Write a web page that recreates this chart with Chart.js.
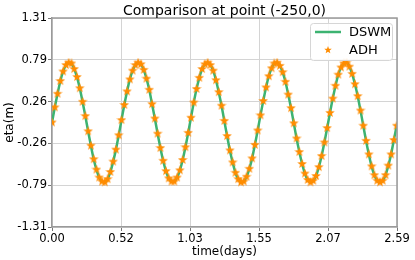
<!DOCTYPE html>
<html>
<head>
<meta charset="utf-8">
<script src="https://cdn.jsdelivr.net/npm/chart.js@4"></script>
<style>
  html, body { margin: 0; padding: 0; background: #fff; }
  canvas { display: block; }
</style>
</head>
<body>
<canvas id="chart" width="415" height="260"></canvas>
<script>
// sample times (hours), DSWM water level and ADH water level (m)
const hours = [
  0, 0.5, 1, 1.5, 2, 2.5, 3, 3.5, 4, 4.5, 5, 5.5, 6, 6.5, 7, 7.5, 8, 8.5, 9, 9.5,
  10, 10.5, 11, 11.5, 12, 12.5, 13, 13.5, 14, 14.5, 15, 15.5, 16, 16.5, 17, 17.5, 18, 18.5, 19, 19.5,
  20, 20.5, 21, 21.5, 22, 22.5, 23, 23.5, 24, 24.5, 25, 25.5, 26, 26.5, 27, 27.5, 28, 28.5, 29, 29.5,
  30, 30.5, 31, 31.5, 32, 32.5, 33, 33.5, 34, 34.5, 35, 35.5, 36, 36.5, 37, 37.5, 38, 38.5, 39, 39.5,
  40, 40.5, 41, 41.5, 42, 42.5, 43, 43.5, 44, 44.5, 45, 45.5, 46, 46.5, 47, 47.5, 48, 48.5, 49, 49.5,
  50, 50.5, 51, 51.5, 52, 52.5, 53, 53.5, 54, 54.5, 55, 55.5, 56, 56.5, 57, 57.5, 58, 58.5, 59, 59.5,
  60, 60.5, 61, 61.5, 62
];
const dswm = [
  0.00, 0.19, 0.36, 0.52, 0.64, 0.72, 0.75, 0.74, 0.67, 0.57, 0.43, 0.26, 0.08, -0.11, -0.29, -0.46, -0.59, -0.69, -0.74, -0.75,
  -0.71, -0.62, -0.49, -0.34, -0.16, 0.03, 0.22, 0.39, 0.54, 0.65, 0.72, 0.75, 0.73, 0.66, 0.55, 0.41, 0.23, 0.05, -0.14, -0.32,
  -0.48, -0.61, -0.70, -0.74, -0.74, -0.69, -0.60, -0.47, -0.31, -0.13, 0.06, 0.25, 0.42, 0.56, 0.67, 0.73, 0.75, 0.72, 0.65, 0.53,
  0.38, 0.21, 0.02, -0.17, -0.35, -0.50, -0.63, -0.71, -0.75, -0.74, -0.68, -0.58, -0.45, -0.28, -0.10, 0.09, 0.27, 0.44, 0.58, 0.68,
  0.74, 0.75, 0.71, 0.63, 0.51, 0.35, 0.18, -0.01, -0.20, -0.37, -0.52, -0.64, -0.72, -0.75, -0.73, -0.67, -0.56, -0.42, -0.25, -0.07,
  0.12, 0.30, 0.46, 0.60, 0.69, 0.74, 0.75, 0.70, 0.61, 0.48, 0.33, 0.15, -0.04, -0.23, -0.40, -0.55, -0.66, -0.73, -0.75, -0.73,
  -0.66, -0.54, -0.40, -0.22, -0.04
];
const adh = [
  0.00, 0.19, 0.36, 0.52, 0.64, 0.72, 0.75, 0.74, 0.67, 0.57, 0.43, 0.26, 0.08, -0.11, -0.29, -0.46, -0.59, -0.69, -0.74, -0.75,
  -0.71, -0.62, -0.49, -0.34, -0.16, 0.03, 0.22, 0.39, 0.54, 0.65, 0.72, 0.75, 0.73, 0.66, 0.55, 0.41, 0.23, 0.05, -0.14, -0.32,
  -0.48, -0.61, -0.70, -0.74, -0.74, -0.69, -0.60, -0.47, -0.31, -0.13, 0.06, 0.25, 0.42, 0.56, 0.67, 0.73, 0.75, 0.72, 0.65, 0.53,
  0.38, 0.21, 0.02, -0.17, -0.35, -0.50, -0.63, -0.71, -0.75, -0.74, -0.68, -0.58, -0.45, -0.28, -0.10, 0.09, 0.27, 0.44, 0.58, 0.68,
  0.74, 0.75, 0.71, 0.63, 0.51, 0.35, 0.18, -0.01, -0.20, -0.37, -0.52, -0.64, -0.72, -0.75, -0.73, -0.67, -0.56, -0.42, -0.25, -0.07,
  0.12, 0.30, 0.46, 0.60, 0.69, 0.74, 0.75, 0.70, 0.61, 0.48, 0.33, 0.15, -0.04, -0.23, -0.40, -0.55, -0.66, -0.73, -0.75, -0.73,
  -0.66, -0.54, -0.40, -0.22, -0.04
];

// axis ticks
const xTickValues = [0, 0.5172, 1.0344, 1.5516, 2.0688, 2.586];
const xTickLabels = ['0.00', '0.52', '1.03', '1.55', '2.07', '2.59'];
const yTickValues = [-1.31, -0.786, -0.262, 0.262, 0.786, 1.31];
const yTickLabels = ['-1.31', '-0.79', '-0.26', '0.26', '0.79', '1.31'];

const GREEN = '#3cb371';
const ORANGE = '#ff8c00';
const SPINE = '#9a9a9a';
const FONT = '"DejaVu Sans", sans-serif';

function makeStar(size, color) {
  const c = document.createElement('canvas');
  c.width = size;
  c.height = size;
  const g = c.getContext('2d');
  const cx = size / 2, cy = size / 2;
  const outer = size / 2, inner = outer * 0.42;
  g.beginPath();
  for (let i = 0; i < 10; i++) {
    const r = i % 2 === 0 ? outer : inner;
    const a = -Math.PI / 2 + i * Math.PI / 5;
    const px = cx + r * Math.cos(a), py = cy + r * Math.sin(a);
    if (i === 0) g.moveTo(px, py); else g.lineTo(px, py);
  }
  g.closePath();
  g.fillStyle = color;
  g.fill();
  return c;
}

const starBig = makeStar(10, ORANGE);
const starSmall = makeStar(8, ORANGE);

const toPoints = (vals) => vals.map((v, i) => ({ x: hours[i] / 24, y: v }));

const framePlugin = {
  id: 'frame',
  afterDraw(chart) {
    const { ctx, chartArea: a } = chart;
    ctx.save();
    // top and right spines
    ctx.strokeStyle = SPINE;
    ctx.lineWidth = 1.5;
    ctx.beginPath();
    ctx.moveTo(a.left, a.top);
    ctx.lineTo(a.right, a.top);
    ctx.lineTo(a.right, a.bottom);
    ctx.stroke();

    // title
    ctx.fillStyle = '#000';
    ctx.font = '14px ' + FONT;
    ctx.textAlign = 'center';
    ctx.textBaseline = 'alphabetic';
    ctx.fillText('Comparison at point (-250,0)', (a.left + a.right) / 2, 15);

    // legend box
    const bx = 310, by = 23, bw = 82, bh = 37;
    ctx.fillStyle = 'rgba(255,255,255,0.85)';
    ctx.strokeStyle = '#d6d6d6';
    ctx.lineWidth = 1;
    ctx.beginPath();
    ctx.roundRect(bx + 0.5, by + 0.5, bw, bh, 3);
    ctx.fill();
    ctx.stroke();

    ctx.strokeStyle = GREEN;
    ctx.lineWidth = 2.5;
    ctx.beginPath();
    ctx.moveTo(315, 32);
    ctx.lineTo(341, 32);
    ctx.stroke();
    ctx.drawImage(starSmall, 324, 46);

    ctx.fillStyle = '#000';
    ctx.font = '13px ' + FONT;
    ctx.textAlign = 'left';
    ctx.textBaseline = 'middle';
    ctx.fillText('DSWM', 349, 33);
    ctx.fillText('ADH', 349, 51);
    ctx.restore();
  }
};

new Chart(document.getElementById('chart'), {
  type: 'line',
  data: {
    datasets: [
      {
        label: 'ADH',
        data: toPoints(adh),
        showLine: false,
        pointStyle: starBig,
        pointRadius: 5,
        borderColor: ORANGE,
        backgroundColor: ORANGE,
        order: 0
      },
      {
        label: 'DSWM',
        data: toPoints(dswm),
        borderColor: GREEN,
        borderWidth: 2.5,
        pointRadius: 0,
        tension: 0.2,
        fill: false,
        order: 1
      }
    ]
  },
  options: {
    responsive: false,
    animation: false,
    layout: { padding: { top: 18, right: 18, left: 0, bottom: 0 } },
    plugins: {
      legend: { display: false },
      title: { display: false },
      tooltip: { enabled: false }
    },
    scales: {
      x: {
        type: 'linear',
        min: 0,
        max: xTickValues[xTickValues.length - 1],
        afterBuildTicks: (s) => { s.ticks = xTickValues.map(v => ({ value: v })); },
        afterFit: (s) => { s.height = 33; },
        ticks: {
          autoSkip: false,
          maxRotation: 0,
          padding: 1,
          color: '#000',
          font: { family: FONT, size: 11.5 },
          callback: (v, i) => xTickLabels[i]
        },
        grid: { color: '#d4d4d4', lineWidth: 1, tickLength: 4, tickColor: '#777' },
        border: { display: true, color: SPINE, width: 1.5 },
        title: {
          display: true,
          text: 'time(days)',
          color: '#000',
          font: { family: FONT, size: 12 },
          padding: { top: 0, bottom: 1 }
        }
      },
      y: {
        min: yTickValues[0],
        max: yTickValues[yTickValues.length - 1],
        afterBuildTicks: (s) => { s.ticks = yTickValues.map(v => ({ value: v })); },
        afterFit: (s) => { s.width = 52; },
        ticks: {
          autoSkip: false,
          padding: 1,
          color: '#000',
          font: { family: FONT, size: 11.5 },
          callback: (v, i) => yTickLabels[i]
        },
        grid: { color: '#d4d4d4', lineWidth: 1, tickLength: 4, tickColor: '#777' },
        border: { display: true, color: SPINE, width: 1.5 },
        title: {
          display: true,
          text: 'eta(m)',
          color: '#000',
          font: { family: FONT, size: 12 },
          padding: { top: 3, bottom: 3 }
        }
      }
    }
  },
  plugins: [framePlugin]
});
</script>
</body>
</html>
